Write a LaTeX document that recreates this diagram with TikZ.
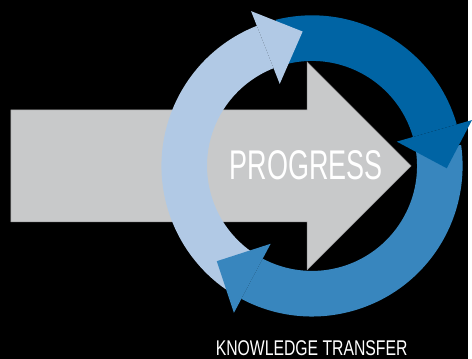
\documentclass[tikz,border=0pt]{standalone}
\usepackage{fontspec}
\newfontfamily\progressfont[FakeStretch=0.65]{Liberation Sans}
\newfontfamily\transferfont[FakeStretch=0.74]{Liberation Sans}
\usetikzlibrary{positioning}

\definecolor{arrowgrey}{RGB}{200,201,202}
\definecolor{arrowedge}{RGB}{150,151,152}
\definecolor{ringlight}{RGB}{177,201,229}
\definecolor{ringdark}{RGB}{0,100,164}
\definecolor{ringmid}{RGB}{56,134,190}

\begin{document}
\begin{tikzpicture}[
  x=1pt, y=1pt,
% 1. Wide grey arrow pointing right
  progress arrow/.style={
    fill=arrowgrey,
    draw=arrowedge,
    line width=0.5pt
  },
% 2. Labels in a narrow white sans
  big_label/.style={
    font=\progressfont\fontsize{41.9}{42}\selectfont,
    text=white,
    inner sep=0pt,
    anchor=base
  },
  small_label/.style={
    font=\transferfont\fontsize{21.5}{22}\selectfont,
    text=white,
    inner sep=0pt,
    anchor=base
  }
]

  % Black backdrop fixes the page size
  \fill[black] (0,0) rectangle (472,362);

  % Grey arrow (body + head)
  \draw[progress arrow] (11,138) -- (310,138) -- (310,89.5) -- (415,194.5)
    -- (310,299.5) -- (310,251) -- (11,251) -- cycle;

  % Ring of three curved arrows around the head
  \begin{scope}[shift={(315,194.5)}]
    % bands first: start angle / end angle / tip angle / colour
    \foreach \from/\to/\tip/\col in {235/111.5/94/ringlight, 104/16/-1/ringdark, 8/-118/-135/ringmid}
      \fill[\col] (\from:106pt) arc[start angle=\from, end angle=\to, radius=106pt]
        -- (\to:152pt) arc[start angle=\to, end angle=\from, radius=152pt] -- cycle;
    % heads on top, each one covering the start of the next band
    \foreach \from/\to/\tip/\col in {235/111.5/94/ringlight, 104/16/-1/ringdark, 8/-118/-135/ringmid}
      \fill[\col] (\to:89pt) -- (\to:168pt) -- (\tip:136pt) -- cycle;
  \end{scope}

  % Text
  \node[big_label] (progress) at (309.2,180.3) {PROGRESS};
  \node[small_label] (transfer) at (314.6,3.5) {KNOWLEDGE TRANSFER};

\end{tikzpicture}
\end{document}
